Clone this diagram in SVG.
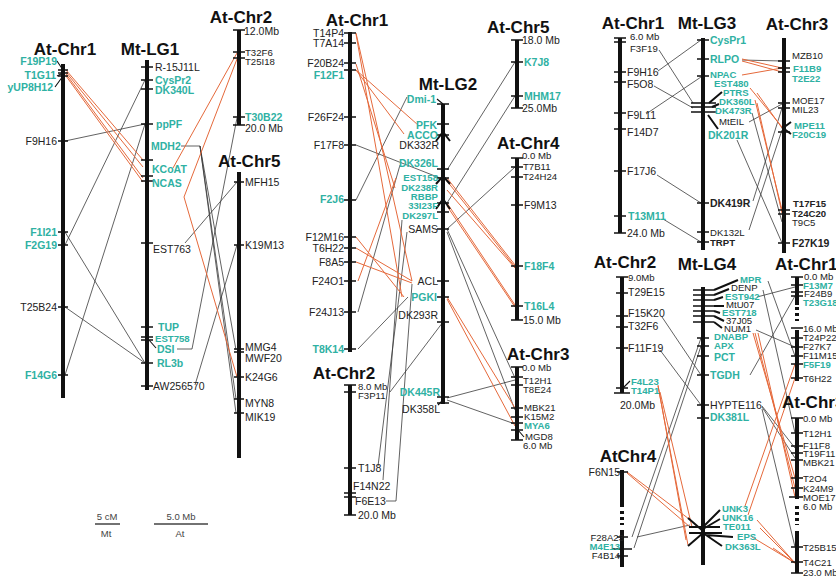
<svg xmlns="http://www.w3.org/2000/svg" width="836" height="578" viewBox="0 0 836 578">
<style>
text{font-family:"Liberation Sans",Arial,sans-serif;font-size:10.5px;fill:#222}
.ttl{font-size:17px;font-weight:bold;fill:#111}
.tl{fill:#2fb1a3;font-weight:bold}
.b{font-weight:bold}
.s{font-size:9.6px}
.r{text-anchor:end}
.m{text-anchor:middle}
.bar{stroke:#111;stroke-width:4;fill:none}
.tk{stroke:#111;stroke-width:1.6;fill:none}
.ld{stroke:#111;stroke-width:1.1;fill:none}
.th{stroke:#111;stroke-width:2;fill:none}
.c{stroke:#3a3a3a;stroke-width:0.8;fill:none}
.o{stroke:#e5693b;stroke-width:1;fill:none}
.sc{font-size:9.5px;fill:#444}
</style>
<rect width="836" height="578" fill="#fff"/>

<g id="connectors">
<!-- panel 1 -->
<path class="c" d="M65,141L145,124M145,80L65,245M145,124L65,375M65,232L145,363M65,307L145,363M185,243L237,182M177,349L192,349L237,118M195,385L237,245M181,146L200,146L236,350M200,146L236,399M200,146L236,413"/>
<path class="o" d="M66,70L143,160M66,72L143,167M66,74L143,178M66,76L143,182M237,53L173,168M237,59L184,197L237,377"/>
<!-- panel 2 -->
<path class="c" d="M407,97L356,200M356,145L440,178M515,62L447,170M515,96L447,203M515,167L447,229M447,229L515,378M447,232L515,410M358,312L400,165M358,349L408,297M443,322L390,392M378,466L407,232M383,480L402,220M386,501L396,501L412,284M447,398L515,380M447,400L515,424"/>
<path class="o" d="M356,33L412,281M356,34L402,297M356,70L418,125M356,70L404,134M356,64L395,188M356,237L404,297M356,248L412,281M356,262L412,283M358,281L396,178M447,178L515,265M447,181L515,267M447,190L515,268M447,203L515,305M447,206L515,307M447,297L515,408M447,299L515,426"/>
<!-- panel 3 top -->
<path class="c" d="M658,71L701,40M659,50L693,103M654,86L693,108M646,114L701,77M657,175L701,203M663,219L701,242M742,60L782,61M749,122L782,104M737,140L782,243M753,201L782,108M749,230L782,130M752,113L782,222"/>
<path class="o" d="M742,59L782,68M742,61L782,72M742,75L782,68M750,88L782,127M757,93L782,128M755,100L782,210M757,103L782,213"/>
<!-- panel 3 bottom -->
<path class="c" d="M662,317L701,375M660,350L701,405M632,537L701,338M634,548L701,346M637,537L690,525M750,375L795,296M757,297L795,287M763,290L795,433M768,281L795,356M756,330L795,347M762,406L795,448M762,407L795,458M762,409L795,547"/>
<path class="o" d="M658,385L686,540M658,386L688,545M660,392L692,527M627,472L693,522M627,473L690,527M753,333L795,478M755,333L795,488M758,333L795,497M745,506L795,364M748,515L795,378M757,520L795,563M760,528L795,563M752,537L795,563M773,548L795,563"/>
</g>

<!-- ============ PANEL 1 ============ -->
<g id="p1-at-chr1">
<text class="ttl m" x="65" y="55">At-Chr1</text>
<path class="bar" d="M63,64V398"/>
<path class="tk" d="M58,70H68M58,73H68M58,76H68M58,141H68M58,232H68M58,245H68M58,307H68M58,375H68"/>
<path class="ld" d="M57,61L63,70M57,76L63,73M55,87L63,76"/>
<text class="tl r" x="57" y="65">F19P19</text>
<text class="tl r" x="56" y="79">T1G11</text>
<text class="tl r" x="53" y="91">yUP8H12</text>
<text class="r" x="57" y="145">F9H16</text>
<text class="tl r" x="57" y="236">F1I21</text>
<text class="tl r" x="57" y="249">F2G19</text>
<text class="r" x="57" y="311">T25B24</text>
<text class="tl r" x="57" y="379">F14G6</text>
</g>

<g id="p1-mt-lg1">
<text class="ttl m" x="150" y="55">Mt-LG1</text>
<path class="bar" d="M147,60V390"/>
<path class="tk" d="M141,67H153M141,80H153M141,89H153M141,124H153M141,160H153M141,176H153M141,181H153M141,243H153M141,327H153M141,337H153M141,340H153M141,363H153M141,386H153"/>
<path class="ld" d="M149,340L156,348"/>
<text x="155" y="71">R-15J11L</text>
<text class="tl" x="155" y="84">CysPr2</text>
<text class="tl" x="155" y="94">DK340L</text>
<text class="tl" x="156" y="128">ppPF</text>
<text class="tl" x="151" y="150">MDH2</text>
<text class="tl" x="152" y="173">KCoAT</text>
<text class="tl" x="152" y="187">NCAS</text>
<text x="153" y="253">EST763</text>
<text class="tl" x="158" y="331">TUP</text>
<text class="tl s" x="155" y="342">EST758</text>
<text class="tl" x="157" y="353">DSI</text>
<text class="tl" x="157" y="367">RL3b</text>
<text x="153" y="390">AW256570</text>
</g>

<g id="p1-at-chr2">
<text class="ttl m" x="241" y="23">At-Chr2</text>
<path class="bar" d="M239,30V125"/>
<path class="tk" d="M233,30H245M233,52H245M233,58H245M233,117H245M233,125H245"/>
<text x="244" y="35">12.0Mb</text>
<text class="s" x="245" y="56">T32F6</text>
<text class="s" x="245" y="65">T25I18</text>
<text class="tl" x="245" y="121">T30B22</text>
<text x="245" y="132">20.0 Mb</text>
</g>

<g id="p1-at-chr5">
<text class="ttl" x="218" y="167">At-Chr5</text>
<path class="bar" d="M239,172V458"/>
<path class="tk" d="M234,182H244M234,245H244M234,349H244M234,352H244M234,377H244M234,399H244M234,413H244"/>
<text x="245" y="186">MFH15</text>
<text x="245" y="249">K19M13</text>
<text x="245" y="351">MMG4</text>
<text x="245" y="362">MWF20</text>
<text x="245" y="381">K24G6</text>
<text x="245" y="407">MYN8</text>
<text x="245" y="421">MIK19</text>
</g>

<g id="scale-bars">
<text class="sc m" x="107" y="520">5 cM</text>
<path d="M95,524H120M154,524H208" stroke="#444" stroke-width="1.5"/>
<text class="sc m" x="106" y="537">Mt</text>
<text class="sc m" x="181" y="520">5.0 Mb</text>
<text class="sc m" x="180" y="537">At</text>
</g>

<!-- ============ PANEL 2 ============ -->
<g id="p2-at-chr1">
<text class="ttl m" x="357" y="26">At-Chr1</text>
<path class="bar" d="M350,32V352"/>
<path class="tk" d="M344,33H356M344,43H356M344,63H356M344,70H356M344,117H356M344,145H356M344,200H356M344,237H356M344,248H356M344,262H356M344,281H356M344,312H356M344,349H356"/>
<text class="r" x="344" y="37">T14P4</text>
<text class="r" x="344" y="47">T7A14</text>
<text class="r" x="344" y="67">F20B24</text>
<text class="tl r" x="344" y="79">F12F1</text>
<text class="r" x="344" y="121">F26F24</text>
<text class="r" x="344" y="149">F17F8</text>
<text class="tl r" x="344" y="203">F2J6</text>
<text class="r" x="344" y="241">F12M16</text>
<text class="r" x="344" y="252">T6H22</text>
<text class="r" x="344" y="266">F8A5</text>
<text class="r" x="344" y="285">F24O1</text>
<text class="r" x="344" y="316">F24J13</text>
<text class="tl r" x="344" y="353">T8K14</text>
</g>

<g id="p2-mt-lg2">
<text class="ttl m" x="448" y="90">Mt-LG2</text>
<path class="bar" d="M443,104V404"/>
<path class="tk" d="M437,104H449M437,124H449M437,135H449M437,169H449M437,178H449M437,203H449M437,212H449M437,229H449M437,281H449M437,297H449M437,322H449M437,397H449M437,403H449"/>
<path class="th" d="M436,141L443,132L450,141M436,184L443,176L450,184M436,209L443,199L450,209"/>
<path class="ld" d="M437,99L443,104M438,405L443,400"/>
<text class="tl r" x="436" y="103">Dmi-1</text>
<text class="tl r" x="437" y="129">PFK</text>
<text class="tl r" x="438" y="139">ACCO</text>
<text class="r" x="439" y="149">DK332R</text>
<text class="tl r" x="438" y="167">DK326L</text>
<text class="tl r s" x="438" y="181">EST158</text>
<text class="tl r s" x="438" y="191">DK238R</text>
<text class="tl r s" x="438" y="200">RBBP</text>
<text class="tl r s" x="438" y="209">33I23F</text>
<text class="tl r s" x="438" y="219">DK297L</text>
<text class="r" x="438" y="233">SAMS</text>
<text class="r" x="438" y="285">ACL</text>
<text class="tl r" x="437" y="301">PGKI</text>
<text class="r" x="438" y="319">DK293R</text>
<text class="tl r" x="440" y="396">DK445R</text>
<text class="r" x="440" y="413">DK358L</text>
</g>

<g id="p2-at-chr5">
<text class="ttl" x="487" y="33">At-Chr5</text>
<path class="bar" d="M517,40V108"/>
<path class="tk" d="M511,40H523M511,62H523M511,96H523M511,108H523"/>
<text x="522" y="44">18.0 Mb</text>
<text class="tl" x="524" y="66">K7J8</text>
<text class="tl" x="524" y="100">MHM17</text>
<text x="522" y="112">25.0Mb</text>
</g>

<g id="p2-at-chr4">
<text class="ttl" x="497" y="149">At-Chr4</text>
<path class="bar" d="M517,158V320"/>
<path class="tk" d="M511,158H523M511,167H523M511,177H523M511,205H523M511,266H523M511,306H523M511,320H523"/>
<text class="s" x="522" y="159">0.0 Mb</text>
<text class="s" x="523" y="170">T7B11</text>
<text class="s" x="523" y="180">T24H24</text>
<text x="524" y="209">F9M13</text>
<text class="tl" x="524" y="270">F18F4</text>
<text class="tl" x="524" y="310">T16L4</text>
<text x="523" y="324">15.0 Mb</text>
</g>

<g id="p2-at-chr3">
<text class="ttl" x="507" y="360">At-Chr3</text>
<path class="bar" d="M517,367V440"/>
<path class="tk" d="M511,367H523M511,377H523M511,385H523M511,408H523M511,417H523M511,423H523M511,430H523M511,440H523"/>
<path class="ld" d="M518,430L524,437"/>
<text class="s" x="522" y="371">0.0 Mb</text>
<text class="s" x="523" y="384">T12H1</text>
<text class="s" x="523" y="393">T8E24</text>
<text class="s" x="524" y="411">MBK21</text>
<text class="s" x="524" y="420">K15M2</text>
<text class="tl s" x="524" y="429">MYA6</text>
<text class="s" x="525" y="440">MGD8</text>
<text class="s" x="523" y="449">6.0 Mb</text>
</g>

<g id="p2-at-chr2">
<text class="ttl m" x="344" y="379">At-Chr2</text>
<path class="bar" d="M350,385V515"/>
<path class="tk" d="M344,385H356M344,392H356M344,468H356M344,493H356M344,497H356M344,515H356"/>
<text class="s" x="358" y="390">8.0 Mb</text>
<text class="s" x="358" y="399">F3P11</text>
<text x="358" y="472">T1J8</text>
<text x="353" y="490">F14N22</text>
<text x="355" y="505">F6E13</text>
<text x="358" y="519">20.0 Mb</text>
</g>

<!-- ============ PANEL 3 ============ -->
<g id="p3-at-chr1-top">
<text class="ttl m" x="633" y="29">At-Chr1</text>
<path class="bar" d="M620,38V233"/>
<path class="tk" d="M614,38H626M614,42H626M614,72H626M614,82H626M614,113H626M614,129H626M614,171H626M614,216H626M614,233H626"/>
<text class="s" x="630" y="40">6.0 Mb</text>
<text class="s" x="630" y="52">F3F19</text>
<text x="627" y="76">F9H16</text>
<text x="627" y="88">F5O8</text>
<text x="627" y="119">F9L11</text>
<text x="627" y="136">F14D7</text>
<text x="627" y="175">F17J6</text>
<text class="tl" x="628" y="220">T13M11</text>
<text x="627" y="237">24.0 Mb</text>
</g>

<g id="p3-mt-lg3">
<text class="ttl m" x="707" y="29">Mt-LG3</text>
<path class="bar" d="M703,38V250"/>
<path class="tk" d="M697,40H709M697,59H709M697,76H709M691,103H716M691,107H716M691,112H716M697,203H709M697,232H709M697,242H709"/>
<path class="th" d="M709,103L722,92M712,107L719,104M708,115L718,129"/>
<text class="tl" x="710" y="44">CysPr1</text>
<text class="tl" x="710" y="63">RLPO</text>
<text class="tl s" x="710" y="78">NPAC</text>
<text class="tl s" x="714" y="87">EST480</text>
<text class="tl s" x="723" y="96">PTRS</text>
<text class="tl s" x="719" y="105">DK360L</text>
<text class="tl s" x="715" y="114">DK473R</text>
<text class="s" x="719" y="125">MtEIL</text>
<text class="tl" x="708" y="139">DK201R</text>
<text class="b" x="710" y="207">DK419R</text>
<text class="s" x="710" y="236">DK132L</text>
<text class="b s" x="710" y="246">TRPT</text>
</g>

<g id="p3-at-chr3-top">
<text class="ttl m" x="797" y="30">At-Chr3</text>
<path class="bar" d="M784,38V253"/>
<path class="tk" d="M778,61H790M778,68H790M778,72H790M778,103H790M778,108H790M778,132H790M778,210H790M778,214H790M778,243H790"/>
<path class="th" d="M791,122L783,128L791,134"/>
<text class="s" x="792" y="59">MZB10</text>
<text class="tl s" x="793" y="72">F11B9</text>
<text class="tl s" x="792" y="82">T2E22</text>
<text class="s" x="792" y="104">MOE17</text>
<text class="s" x="792" y="113">MIL23</text>
<text class="tl s" x="794" y="129">MPE11</text>
<text class="tl s" x="792" y="138">F20C19</text>
<text class="b s" x="793" y="207">T17F15</text>
<text class="b s" x="792" y="217">T24C20</text>
<text class="s" x="792" y="226">T9C5</text>
<text class="b" x="792" y="247">F27K19</text>
</g>

<g id="p3-at-chr2">
<text class="ttl m" x="625" y="268">At-Chr2</text>
<path class="bar" d="M622,277V393"/>
<path class="tk" d="M616,277H628M616,293H628M616,316H628M616,327H628M616,348H628M616,388H628M614,393H630"/>
<path class="ld" d="M622,389L630,381"/>
<text class="s" x="628" y="281">9.0Mb</text>
<text x="628" y="296">T29E15</text>
<text x="628" y="317">F15K20</text>
<text x="628" y="330">T32F6</text>
<text x="628" y="352">F11F19</text>
<text class="tl s" x="631" y="385">F4L23</text>
<text class="tl s" x="631" y="394">T14P1</text>
<text x="620" y="409">20.0Mb</text>
</g>

<g id="p3-mt-lg4">
<text class="ttl m" x="707" y="270">Mt-LG4</text>
<path class="bar" d="M703,287V565"/>
<path class="tk" d="M693,290H714M693,295H714M693,300H714M693,306H714M693,311H714M693,316H714M693,322H714M697,338H709M697,346H709M697,356H709M697,375H709M697,405H709M697,418H709"/>
<path class="th" d="M714,290L738,280M714,295L729,289M714,300L723,297M714,306L724,306M714,311L720,313M714,316L724,321M714,322L722,328"/>
<path class="th" d="M689,527H720M689,533H722M703,527L720,510M703,529L720,519M703,533L722,546M703,531L688,518M703,533L688,546M706,535L733,537"/>
<text class="tl s" x="740" y="283">MPR</text>
<text class="s" x="731" y="291">DENP</text>
<text class="tl s" x="725" y="300">EST942</text>
<text class="s" x="726" y="308">MtU07</text>
<text class="tl s" x="722" y="316">EST718</text>
<text class="s" x="726" y="324">37J05</text>
<text class="s" x="724" y="332">NUM1</text>
<text class="tl s" x="714" y="340">DNABP</text>
<text class="tl s" x="714" y="349">APX</text>
<text class="tl" x="714" y="361">PCT</text>
<text class="tl" x="710" y="379">TGDH</text>
<text x="710" y="409">HYPTE116</text>
<text class="tl" x="710" y="421">DK381L</text>
<text class="tl s" x="722" y="512">UNK3</text>
<text class="tl s" x="722" y="521">UNK16</text>
<text class="tl s" x="723" y="530">TE011</text>
<text class="tl s" x="737" y="540">EPS</text>
<text class="tl s" x="725" y="550">DK363L</text>
</g>

<g id="p3-at-chr1-right">
<text class="ttl" x="775" y="270">At-Chr1</text>
<path class="bar" d="M797,277V305M797,330V381"/>
<path d="M797,307V321" stroke="#111" stroke-width="4" stroke-dasharray="3 3"/>
<path class="tk" d="M791,277H803M791,285H803M791,292H803M791,296H803M791,328H803M791,338H803M791,347H803M791,356H803M791,364H803M791,378H803"/>
<text class="s" x="804" y="280">0.0 Mb</text>
<text class="tl s" x="803" y="289">F13M7</text>
<text class="s" x="804" y="297">F24B9</text>
<text class="tl s" x="803" y="306">T23G18</text>
<text class="s" x="803" y="332">16.0 Mb</text>
<text class="s" x="803" y="341">T24P22</text>
<text class="s" x="803" y="350">F27K7</text>
<text class="s" x="803" y="359">F11M15</text>
<text class="tl s" x="803" y="368">F5F19</text>
<text class="s" x="803" y="382">T6H22</text>
</g>

<g id="p3-at-chr3-bottom">
<text class="ttl" x="782" y="408">At-Chr3</text>
<path class="bar" d="M797,418V499M797,531V573"/>
<path d="M797,506V525" stroke="#111" stroke-width="4" stroke-dasharray="3 3"/>
<path class="tk" d="M791,418H803M791,433H803M791,446H803M791,453H803M791,460H803M791,478H803M791,488H803M789,497H803M791,547H803M791,562H803M791,573H803"/>
<text class="s" x="803" y="422">0.0 Mb</text>
<text class="s" x="803" y="437">T12H1</text>
<text class="s" x="803" y="449">F11F8</text>
<text class="s" x="803" y="457">T19F11</text>
<text class="s" x="803" y="466">MBK21</text>
<text class="s" x="803" y="482">T2O4</text>
<text class="s" x="803" y="492">K24M9</text>
<text class="s" x="803" y="501">MOE17</text>
<text class="s" x="803" y="510">6.0 Mb</text>
<text class="s" x="803" y="551">T25B15</text>
<text class="s" x="803" y="566">T4C21</text>
<text class="s" x="803" y="576">23.0 Mb</text>
</g>

<g id="p3-atchr4">
<text class="ttl m" x="628" y="462">AtChr4</text>
<path class="bar" d="M622,470V507M622,530V567"/>
<path d="M622,511V525" stroke="#111" stroke-width="4" stroke-dasharray="3 3"/>
<path class="tk" d="M617,472H628M617,537H628M612,549H632M617,556H628"/>
<text class="r" x="620" y="476">F6N15</text>
<text class="r s" x="624" y="541">F28A23</text>
<text class="tl r s" x="620" y="550">M4E13</text>
<text class="r s" x="620" y="559">F4B14</text>
</g>
</svg>
